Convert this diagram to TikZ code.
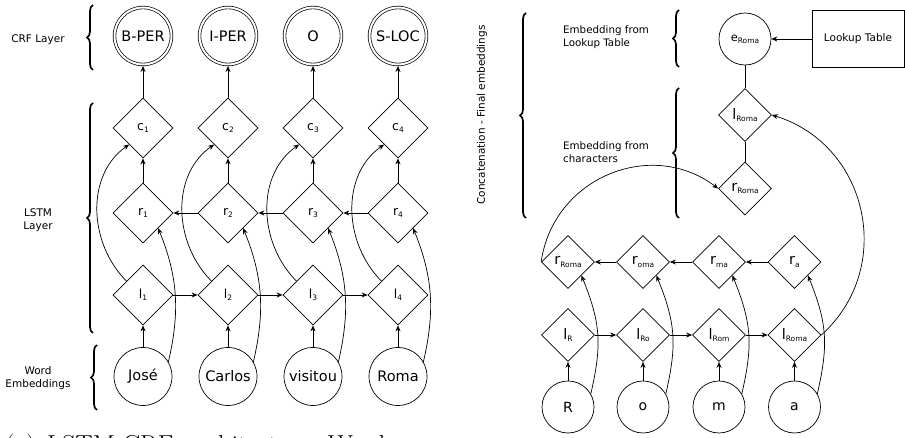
\documentclass[tikz,border=0pt]{standalone}
\usepackage{fontspec}
\setsansfont{DejaVu Sans}
\usetikzlibrary{shapes.geometric,arrows.meta,decorations.pathreplacing}
\newcommand{\msub}[1]{\raisebox{-0.35ex}{\fontsize{7.5}{8}\selectfont #1}}
\begin{document}
\begin{tikzpicture}[x=1pt,y=1pt,
  every node/.style={font=\sffamily},
  ln/.style={line width=0.7pt},
  ar/.style={ln,-{Stealth[length=6pt,width=5pt]}},
  dia/.style={ln,draw,diamond,aspect=1,inner sep=0pt,minimum width=60pt,minimum height=60pt,font=\sffamily\fontsize{12.5}{14}\selectfont},
  rdia/.style={ln,draw,diamond,aspect=1,inner sep=0pt,minimum width=53pt,minimum height=53pt,font=\sffamily\fontsize{14.5}{16}\selectfont},
  crf/.style={ln,draw,circle,double,double distance=2pt,inner sep=0pt,minimum size=57pt,outer sep=1.5pt,font=\sffamily\fontsize{14.5}{16}\selectfont},
  wc/.style={ln,draw,circle,inner sep=0pt,minimum size=58pt,font=\sffamily\fontsize{14.5}{16}\selectfont},
  rc/.style={ln,draw,circle,inner sep=0pt,minimum size=52pt,font=\sffamily\fontsize{14}{16}\selectfont},
  lab/.style={align=center,font=\sffamily\fontsize{10.5}{13.5}\selectfont,inner sep=0pt},
  rlab/.style={align=left,anchor=west,font=\sffamily\fontsize{10.3}{13}\selectfont,inner sep=0pt},
  brc/.style={decorate,decoration={brace,amplitude=6pt},line width=1.7pt},
  captxt/.style={anchor=base west,inner sep=0pt,font=\rmfamily\fontsize{26}{30}\selectfont}
]
\useasboundingbox (0,0) rectangle (905,438);

% ---------------- left part ----------------
\node[crf] (y1) at (143,402) {B-PER};
\node[crf] (y2) at (228,402) {I-PER};
\node[crf] (y3) at (313,402) {O};
\node[crf] (y4) at (398,402) {S-LOC};

\node[dia] (c1) at (143,310) {c\msub{1}};
\node[dia] (c2) at (228,310) {c\msub{2}};
\node[dia] (c3) at (313,310) {c\msub{3}};
\node[dia] (c4) at (398,310) {c\msub{4}};

\node[dia] (r1) at (143,225) {r\msub{1}};
\node[dia] (r2) at (228,225) {r\msub{2}};
\node[dia] (r3) at (313,225) {r\msub{3}};
\node[dia] (r4) at (398,225) {r\msub{4}};

\node[dia] (l1) at (143,143) {l\msub{1}};
\node[dia] (l2) at (228,143) {l\msub{2}};
\node[dia] (l3) at (313,143) {l\msub{3}};
\node[dia] (l4) at (398,143) {l\msub{4}};

\node[wc] (w1) at (143,61.5) {José};
\node[wc] (w2) at (228,61.5) {Carlos};
\node[wc] (w3) at (313,61.5) {visitou};
\node[wc] (w4) at (398,61.5) {Roma};

\foreach \i in {1,2,3,4}{
  \draw[ar] (c\i) -- (y\i);
  \draw[ar] (r\i) -- (c\i);
  \draw[ar] (w\i) -- (l\i);
  \draw[ar] (l\i.140) to[out=135,in=215] (c\i.230);
  \draw[ar] (w\i.30) to[out=77,in=-68] (r\i.-45);
}
\draw[ar] (l1) -- (l2);
\draw[ar] (l2) -- (l3);
\draw[ar] (l3) -- (l4);
\draw[ar] (r4) -- (r3);
\draw[ar] (r3) -- (r2);
\draw[ar] (r2) -- (r1);

\node[lab] (tcrf) at (38,398) {CRF Layer};
\node[lab] (tlstm) at (38,218) {LSTM\\Layer};
\node[lab] (tword) at (38,60) {Word\\Embeddings};
\draw[brc] (93,368) -- (93,433);
\draw[brc] (93,105) -- (93,335);
\draw[brc] (97,28) -- (97,93);

% caption (cut off by the page edge, as in the reference)
\node[captxt] (k1) at (5,-16) {(a)};
\node[captxt] (k2) at (47,-16) {LSTM-CRF};
\node[captxt] (k3) at (187,-16) {architecture.};
\node[captxt] (k4) at (328,-16) {Word};
\node[captxt] (k5) at (412,-16) {em-};

% ---------------- right part ----------------
\node[rc,minimum size=52pt,font=\sffamily\fontsize{11.5}{14}\selectfont] (eR) at (745,399) {e\msub{Roma}};
\node[ln,draw,rectangle,minimum width=92pt,minimum height=57pt,inner sep=0pt,font=\sffamily\fontsize{10.5}{13}\selectfont] (lookup) at (858,399) {Lookup Table};
\node[rdia] (lU) at (745,323) {l\msub{Roma}};
\node[rdia] (rU) at (745,249.5) {r\msub{Roma}};
\draw[ar] (lookup) -- (eR);
\draw[ln] (eR) -- (lU);
\draw[ln] (lU) -- (rU);

\node[rdia] (rR) at (568,176) {r\msub{Roma}};
\node[rdia] (ro) at (643,176) {r\msub{oma}};
\node[rdia] (rm) at (719,176) {r\msub{ma}};
\node[rdia] (ra) at (794.5,176) {r\msub{a}};

\node[rdia] (lR) at (568,103) {l\msub{R}};
\node[rdia] (lRo) at (643,103) {l\msub{Ro}};
\node[rdia] (lRom) at (719,103) {l\msub{Rom}};
\node[rdia] (lRoma) at (794.5,103) {l\msub{Roma}};

\node[rc] (cR) at (568,31) {R};
\node[rc] (co) at (643,31) {o};
\node[rc] (cm) at (719,31) {m};
\node[rc] (ca) at (794.5,31) {a};

\draw[ar] (cR) -- (lR);
\draw[ar] (co) -- (lRo);
\draw[ar] (cm) -- (lRom);
\draw[ar] (ca) -- (lRoma);
\draw[ar] (lR) -- (lRo);
\draw[ar] (lRo) -- (lRom);
\draw[ar] (lRom) -- (lRoma);
\draw[ar] (ra) -- (rm);
\draw[ar] (rm) -- (ro);
\draw[ar] (ro) -- (rR);
\draw[ar] (cR.30) to[out=77,in=-68,looseness=1.1] (rR.-45);
\draw[ar] (co.30) to[out=77,in=-68,looseness=1.1] (ro.-45);
\draw[ar] (cm.30) to[out=77,in=-68,looseness=1.1] (rm.-45);
\draw[ar] (ca.30) to[out=77,in=-68,looseness=1.1] (ra.-45);
\draw[ar] (lRoma.east) to[out=42,in=-17,looseness=1.14] (lU.east);
\draw[ar] (rR.west) to[out=82,in=143,looseness=1.13] (rU.west);

\node[font=\sffamily\fontsize{10.5}{13}\selectfont,rotate=90,inner sep=0pt] (tcat) at (482,323) {Concatenation - Final embeddings};
\node[rlab] (tlook) at (563,401) {Embedding from\\Lookup Table};
\node[rlab] (tchar) at (563,286) {Embedding from\\characters};
\draw[brc] (526,220) -- (526,425);
\draw[brc] (679,371) -- (679,428);
\draw[brc] (679,220) -- (679,350);
\end{tikzpicture}
\end{document}
